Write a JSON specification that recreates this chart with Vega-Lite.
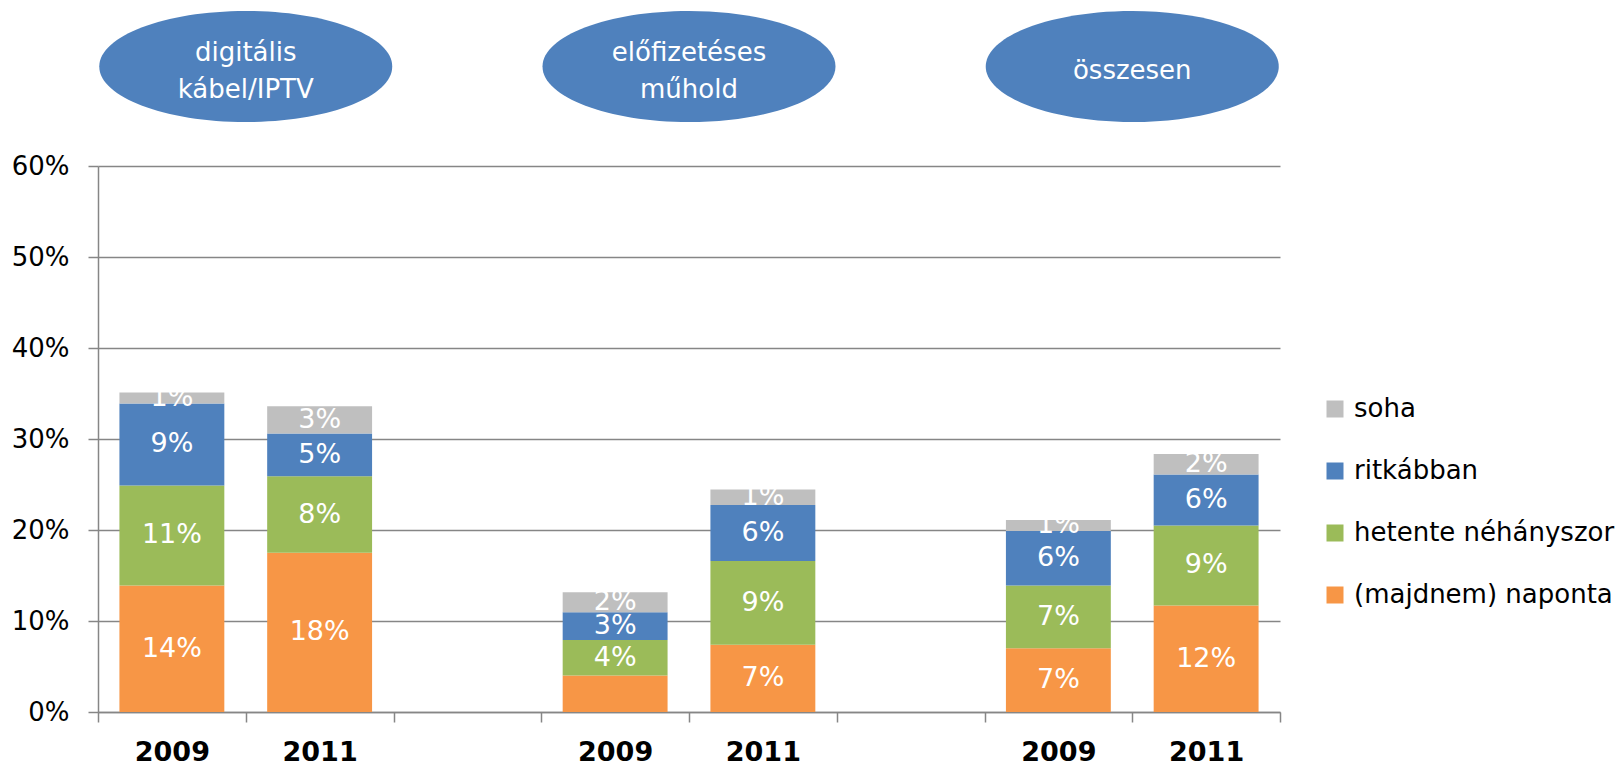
{
  "$schema": "https://vega.github.io/schema/vega-lite/v6.json",
  "padding": {"left": 11, "top": 0, "right": 0, "bottom": 0},
  "autosize": {"type": "pad"},
  "bounds": "flush",
  "spacing": 33,
  "config": {"view": {"stroke": null}, "font": "DejaVu Sans"},
  "datasets": {
    "groups": [
      {"cat": "k2011", "name": "digitális\nkábel/IPTV"},
      {"cat": "s2011", "name": "előfizetéses\nműhold"},
      {"cat": "o2011", "name": "összesen"}
    ],
    "bars": [
      {"cat": "k2009", "series": "(majdnem) naponta", "rank": 1, "v": 0.139, "lbl": "14%"},
      {"cat": "k2009", "series": "hetente néhányszor", "rank": 2, "v": 0.110, "lbl": "11%"},
      {"cat": "k2009", "series": "ritkábban", "rank": 3, "v": 0.090, "lbl": "9%"},
      {"cat": "k2009", "series": "soha", "rank": 4, "v": 0.012, "lbl": "1%"},
      {"cat": "k2011", "series": "(majdnem) naponta", "rank": 1, "v": 0.175, "lbl": "18%"},
      {"cat": "k2011", "series": "hetente néhányszor", "rank": 2, "v": 0.084, "lbl": "8%"},
      {"cat": "k2011", "series": "ritkábban", "rank": 3, "v": 0.047, "lbl": "5%"},
      {"cat": "k2011", "series": "soha", "rank": 4, "v": 0.030, "lbl": "3%"},
      {"cat": "s2009", "series": "(majdnem) naponta", "rank": 1, "v": 0.040, "lbl": ""},
      {"cat": "s2009", "series": "hetente néhányszor", "rank": 2, "v": 0.039, "lbl": "4%"},
      {"cat": "s2009", "series": "ritkábban", "rank": 3, "v": 0.0305, "lbl": "3%"},
      {"cat": "s2009", "series": "soha", "rank": 4, "v": 0.022, "lbl": "2%"},
      {"cat": "s2011", "series": "(majdnem) naponta", "rank": 1, "v": 0.074, "lbl": "7%"},
      {"cat": "s2011", "series": "hetente néhányszor", "rank": 2, "v": 0.092, "lbl": "9%"},
      {"cat": "s2011", "series": "ritkábban", "rank": 3, "v": 0.0615, "lbl": "6%"},
      {"cat": "s2011", "series": "soha", "rank": 4, "v": 0.017, "lbl": "1%"},
      {"cat": "o2009", "series": "(majdnem) naponta", "rank": 1, "v": 0.070, "lbl": "7%"},
      {"cat": "o2009", "series": "hetente néhányszor", "rank": 2, "v": 0.069, "lbl": "7%"},
      {"cat": "o2009", "series": "ritkábban", "rank": 3, "v": 0.060, "lbl": "6%"},
      {"cat": "o2009", "series": "soha", "rank": 4, "v": 0.012, "lbl": "1%"},
      {"cat": "o2011", "series": "(majdnem) naponta", "rank": 1, "v": 0.117, "lbl": "12%"},
      {"cat": "o2011", "series": "hetente néhányszor", "rank": 2, "v": 0.088, "lbl": "9%"},
      {"cat": "o2011", "series": "ritkábban", "rank": 3, "v": 0.056, "lbl": "6%"},
      {"cat": "o2011", "series": "soha", "rank": 4, "v": 0.0225, "lbl": "2%"}
    ]
  },
  "vconcat": [
    {
      "width": 1182,
      "height": 133,
      "data": {"name": "groups"},
      "layer": [
        {
          "mark": {"type": "point", "shape": "M-1,0A1,0.379,0,1,1,1,0A1,0.379,0,1,1,-1,0Z", "size": 85849, "filled": true, "color": "#4F81BD", "opacity": 1, "strokeWidth": 0},
          "encoding": {
            "x": {"field": "cat", "type": "nominal", "bandPosition": 0,
                  "scale": {"type": "band", "domain": ["k2009", "k2011", "g", "s2009", "s2011", "h", "o2009", "o2011"], "paddingInner": 0, "paddingOuter": 0},
                  "axis": null}
          }
        },
        {
          "transform": [{"filter": {"field": "cat", "oneOf": ["k2011", "s2011"]}}],
          "mark": {"type": "text", "color": "white", "fontSize": 26, "lineBreak": "\n", "lineHeight": 37, "align": "center", "baseline": "middle", "dy": -14},
          "encoding": {
            "x": {"field": "cat", "type": "nominal", "bandPosition": 0,
                  "scale": {"type": "band", "domain": ["k2009", "k2011", "g", "s2009", "s2011", "h", "o2009", "o2011"], "paddingInner": 0, "paddingOuter": 0},
                  "axis": null},
            "text": {"field": "name"}
          }
        },
        {
          "transform": [{"filter": {"field": "cat", "equal": "o2011"}}],
          "mark": {"type": "text", "color": "white", "fontSize": 26, "align": "center", "baseline": "middle", "dy": 4},
          "encoding": {
            "x": {"field": "cat", "type": "nominal", "bandPosition": 0,
                  "scale": {"type": "band", "domain": ["k2009", "k2011", "g", "s2009", "s2011", "h", "o2009", "o2011"], "paddingInner": 0, "paddingOuter": 0},
                  "axis": null},
            "text": {"field": "name"}
          }
        }
      ]
    },
    {
      "width": 1182,
      "height": 546,
      "data": {"name": "bars"},
      "layer": [
        {
          "mark": {"type": "bar", "width": {"band": 0.71}},
          "encoding": {
            "x": {"field": "cat", "type": "nominal",
                  "scale": {"type": "band", "domain": ["k2009", "k2011", "g", "s2009", "s2011", "h", "o2009", "o2011"], "paddingInner": 0, "paddingOuter": 0},
                  "axis": {"title": null, "labelExpr": "substring(datum.label, 1)", "labelAngle": 0, "labelFontSize": 27, "labelFontWeight": "bold", "labelColor": "black", "tickBand": "extent", "tickSize": 10, "tickColor": "#868686", "tickWidth": 1.5, "domainColor": "#868686", "domainWidth": 1.5, "labelPadding": 17, "grid": false}},
            "y": {"field": "v", "type": "quantitative", "stack": "zero",
                  "scale": {"domain": [0, 0.6], "nice": false},
                  "axis": {"title": null, "values": [0, 0.1, 0.2, 0.3, 0.4, 0.5, 0.6], "format": ".0%", "grid": true, "gridColor": "#868686", "gridWidth": 1.5, "tickSize": 10, "tickColor": "#868686", "tickWidth": 1.5, "domainColor": "#868686", "domainWidth": 1.5, "labelFontSize": 26, "labelColor": "black", "labelPadding": 19}},
            "color": {"field": "series", "type": "nominal",
                      "scale": {"domain": ["soha", "ritkábban", "hetente néhányszor", "(majdnem) naponta"], "range": ["#BFBFBF", "#4F81BD", "#9BBB59", "#F79646"]},
                      "legend": {"title": null, "orient": "none", "legendX": 1224, "legendY": 396, "symbolType": "square", "symbolSize": 289, "symbolStrokeWidth": 0, "labelFontSize": 26, "labelColor": "black", "labelOffset": 6, "rowPadding": 36, "labelLimit": 400}},
            "order": {"field": "rank", "type": "quantitative"}
          }
        },
        {
          "transform": [
            {"stack": "v", "groupby": ["cat"], "sort": [{"field": "rank", "order": "ascending"}], "as": ["y0", "y1"]},
            {"fold": ["y0", "y1"], "as": ["edge", "pos"]},
            {"aggregate": [{"op": "mean", "field": "pos", "as": "mid"}], "groupby": ["cat", "series", "lbl"]}
          ],
          "mark": {"type": "text", "color": "white", "fontSize": 27, "baseline": "middle", "align": "center"},
          "encoding": {
            "x": {"field": "cat", "type": "nominal", "scale": {"type": "band"}},
            "y": {"field": "mid", "type": "quantitative"},
            "text": {"field": "lbl"}
          }
        }
      ]
    }
  ]
}
